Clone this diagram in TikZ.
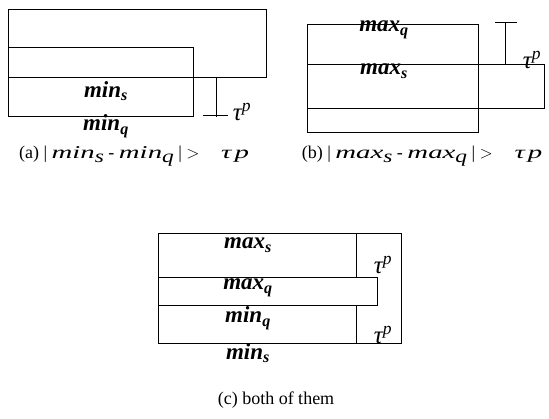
\documentclass[tikz,border=0pt]{standalone}
\usepackage{graphicx}
\usepackage{fontspec}
\setmainfont{Liberation Serif}
\usetikzlibrary{positioning}

% wide italic pieces of the captions
\newcommand{\wvar}[1]{\scalebox{1.6}[1]{\itshape #1}}
\newcommand{\wsub}[1]{\raisebox{-0.45ex}{\scalebox{1.3}[1]{\itshape #1}}}

\begin{document}
\begin{tikzpicture}[
    x=1pt, y=-1pt,
    boxline/.style={
        draw=black,
        line width=1pt
    },
    edgelabel/.style={
        font=\fontsize{23}{24}\selectfont\bfseries\itshape,
        inner sep=0pt
    },
    taulabel/.style={
        font=\fontsize{25}{25}\selectfont\itshape,
        inner sep=0pt
    },
    caption/.style={
        font=\fontsize{18}{20}\selectfont,
        inner sep=0pt
    }
]
    \useasboundingbox (0,0) rectangle (549,419);

    % --- (a) MIN CASE ---
    \draw[boxline] (8,10) rectangle (266,78);
    \draw[boxline] (8,48) rectangle (193,117);
    \draw[boxline] (216,77) -- (216,117);
    \draw[boxline] (203,116) -- (228,116);

    \node[edgelabel] (mins) at (106,91) {min\textsubscript{s}};
    \node[edgelabel] (minq) at (106,126) {min\textsubscript{q}};
    \node[taulabel] (taua) at (242,112) {τ\textsuperscript{p}};
    \node[caption] (capa) at (134,156) {(a) | \wvar{min}\wsub{s} - \wvar{min}\wsub{q} |\ $>$\hspace{1.2em}\wvar{τ}\,\wvar{p}};

    % --- (b) MAX CASE ---
    \draw[boxline] (307,25) rectangle (478,133);
    \draw[boxline] (307,65) rectangle (544,109);
    \draw[boxline] (505,23) -- (505,65);
    \draw[boxline] (495,23) -- (517,23);

    \node[edgelabel] (maxq) at (384,30) {max\textsubscript{q}};
    \node[edgelabel] (maxs) at (384,71) {max\textsubscript{s}};
    \node[taulabel] (taub) at (532,60) {τ\textsuperscript{p}};
    \node[caption] (capb) at (422,156) {(b) | \wvar{max}\wsub{s} - \wvar{max}\wsub{q} |\ $>$\hspace{1.2em}\wvar{τ}\,\wvar{p}};

    % --- (c) BOTH ---
    \draw[boxline] (158,234) rectangle (401,344);
    \draw[boxline] (356,234) -- (356,278);
    \draw[boxline] (356,306) -- (356,344);
    \draw[boxline] (158,278) rectangle (377,306);

    \node[edgelabel] (maxsc) at (248,245) {max\textsubscript{s}};
    \node[edgelabel] (maxqc) at (248,288) {max\textsubscript{q}};
    \node[edgelabel] (minqc) at (248,318) {min\textsubscript{q}};
    \node[edgelabel] (minsc) at (248,353) {min\textsubscript{s}};
    \node[taulabel] (tauc1) at (383,265) {τ\textsuperscript{p}};
    \node[taulabel] (tauc2) at (383,335) {τ\textsuperscript{p}};
    \node[caption] (capc) at (276,400) {(c) both of them};
\end{tikzpicture}
\end{document}
